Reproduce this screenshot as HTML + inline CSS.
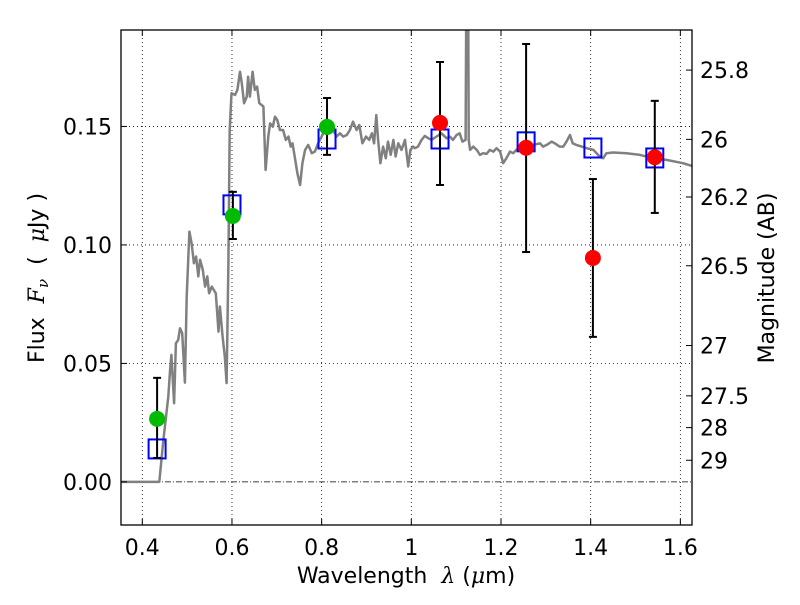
<!DOCTYPE html>
<html><head><meta charset="utf-8"><style>
body{margin:0;background:#fff;}
svg{font-family:"DejaVu Sans","Liberation Sans",sans-serif;}
</style></head><body>
<svg id="chart" width="800" height="600" viewBox="0 0 800 600" xmlns="http://www.w3.org/2000/svg">
<defs><clipPath id="clip"><rect x="121" y="30" width="571" height="495"/></clipPath></defs>
<rect width="800" height="600" fill="#fff"/>
<g id="grid"></g>
<line id="zeroLine" x1="121" x2="692" stroke="#000" stroke-width="0.8" stroke-dasharray="6,2,1,2"/>
<g clip-path="url(#clip)"><path id="spectrum" fill="none" stroke="#808080" stroke-width="2.5" stroke-linejoin="round"/></g>
<g id="marks"></g>
<rect x="121" y="30" width="571" height="495" fill="none" stroke="#000" stroke-width="1.3"/>
<g id="axes" font-size="22"></g>
<text x="406" y="583" font-size="22" text-anchor="middle" xml:space="preserve">Wavelength  <tspan font-style="italic" font-family="DejaVu Serif,serif">λ</tspan> (<tspan font-style="italic" font-family="DejaVu Serif,serif">μ</tspan>m)</text>
<text transform="translate(44,278) rotate(-90)" font-size="22" text-anchor="middle" xml:space="preserve">Flux  <tspan font-style="italic" font-family="DejaVu Serif,serif">F<tspan font-size="15" dy="4">ν</tspan></tspan><tspan dy="-4">  (  </tspan><tspan font-style="italic" font-family="DejaVu Serif,serif">μ</tspan>Jy )</text>
<text transform="translate(774,278) rotate(-90)" font-size="22" text-anchor="middle">Magnitude (AB)</text>
</svg>
<script>
const xTicks=[0.4,0.6,0.8,1.0,1.2,1.4,1.6];
const xTickLabels=["0.4","0.6","0.8","1","1.2","1.4","1.6"];
const yTicks=[0,0.05,0.10,0.15];
const yTickLabels=["0.00","0.05","0.10","0.15"];
const magTicks=[25.8,26,26.2,26.5,27,27.5,28,29];
const magTickLabels=["25.8","26","26.2","26.5","27","27.5","28","29"];
const specLam=[0.350,0.438,0.447,0.458,0.462,0.465,0.471,0.475,0.480,0.484,0.489,0.495,0.499,0.505,0.510,0.515,0.520,0.525,0.529,0.535,0.540,0.545,0.549,0.555,0.564,0.570,0.573,0.579,0.584,0.588,0.592,0.595,0.599,0.607,0.612,0.618,0.622,0.627,0.633,0.636,0.640,0.646,0.651,0.656,0.661,0.670,0.675,0.681,0.685,0.691,0.696,0.701,0.707,0.714,0.720,0.726,0.731,0.735,0.740,0.746,0.752,0.757,0.763,0.770,0.778,0.785,0.792,0.800,0.807,0.815,0.826,0.833,0.841,0.848,0.856,0.863,0.870,0.878,0.884,0.891,0.899,0.906,0.912,0.917,0.922,0.926,0.931,0.937,0.943,0.948,0.954,0.960,0.965,0.971,0.978,0.986,0.993,0.998,1.004,1.008,1.015,1.023,1.030,1.038,1.045,1.056,1.067,1.079,1.086,1.093,1.101,1.108,1.114,1.121,1.125,1.128,1.131,1.138,1.146,1.153,1.160,1.168,1.175,1.183,1.190,1.198,1.205,1.212,1.220,1.227,1.238,1.250,1.261,1.272,1.287,1.294,1.302,1.313,1.320,1.331,1.339,1.346,1.354,1.360,1.368,1.380,1.391,1.406,1.420,1.428,1.435,1.450,1.480,1.510,1.539,1.569,1.606,1.630];
const specFlux=[0,0,0.0177,0.0360,0.0473,0.0536,0.0332,0.0585,0.0599,0.0648,0.0627,0.0419,0.0782,0.1056,0.1007,0.0923,0.0951,0.0867,0.0937,0.0895,0.0824,0.0867,0.0796,0.0824,0.0796,0.0634,0.0740,0.0613,0.0529,0.0417,0.0923,0.1485,0.1640,0.1633,0.1654,0.1731,0.1682,0.1598,0.1626,0.1710,0.1626,0.1731,0.1654,0.1668,0.1598,0.1584,0.1316,0.1457,0.1513,0.1499,0.1541,0.1527,0.1485,0.1485,0.1443,0.1457,0.1415,0.1429,0.1373,0.1302,0.1253,0.1345,0.1401,0.1422,0.1387,0.1394,0.1429,0.1457,0.1485,0.1485,0.1485,0.1457,0.1471,0.1457,0.1464,0.1485,0.1520,0.1485,0.1506,0.1429,0.1457,0.1443,0.1471,0.1429,0.1548,0.1443,0.1345,0.1415,0.1366,0.1436,0.1380,0.1443,0.1373,0.1429,0.1401,0.1443,0.1331,0.1401,0.1415,0.1408,0.1415,0.1443,0.1460,0.1450,0.1443,0.1457,0.1471,0.1450,0.1457,0.1443,0.1464,0.1471,0.1436,0.1443,0.30,0.1443,0.1401,0.1415,0.1401,0.1380,0.1387,0.1384,0.1401,0.1394,0.1408,0.1394,0.1345,0.1366,0.1394,0.1387,0.1408,0.1429,0.1429,0.1422,0.1429,0.1415,0.1422,0.1436,0.1429,0.1415,0.1415,0.1436,0.1464,0.1429,0.1422,0.1415,0.1408,0.1401,0.1373,0.1366,0.1387,0.1390,0.1387,0.1380,0.1366,0.1359,0.1345,0.1331];
const modelLam=[0.433,0.600,0.812,1.064,1.256,1.405,1.543];
const modelFlux=[0.0139,0.1169,0.1447,0.1447,0.1435,0.1409,0.1367];
const greenLam=[0.433,0.602,0.812];
const greenFlux=[0.0266,0.1122,0.1498];
const greenErrLo=[0.0101,0.1025,0.138];
const greenErrHi=[0.0439,0.1224,0.162];
const redLam=[1.064,1.256,1.405,1.543];
const redFlux=[0.1515,0.141,0.0945,0.137];
const redErrLo=[0.1253,0.097,0.0612,0.1135];
const redErrHi=[0.1772,0.1848,0.1278,0.1608];

const X0=121,X1=692,Y0=30,Y1=525,XMIN=0.3525,XMAX=1.626,YMIN=-0.0182,YMAX=0.1907;
const sx=v=>X0+(v-XMIN)/(XMAX-XMIN)*(X1-X0);
const sy=v=>Y1-(v-YMIN)/(YMAX-YMIN)*(Y1-Y0);
const magToFlux=m=>Math.pow(10,(23.9-m)/2.5);
const NS="http://www.w3.org/2000/svg";
function mk(tag,attrs,parent){const e=document.createElementNS(NS,tag);for(const k in attrs)e.setAttribute(k,attrs[k]);parent.appendChild(e);return e;}
const grid=document.getElementById('grid'),axes=document.getElementById('axes'),marks=document.getElementById('marks');
document.getElementById('zeroLine').setAttribute('y1',sy(0));
document.getElementById('zeroLine').setAttribute('y2',sy(0));
xTicks.forEach((t,i)=>{const x=sx(t);
 const g=mk('line',{x1:x,x2:x,y1:Y0,y2:Y1,stroke:'#000','stroke-width':0.8,'stroke-dasharray':'1,3'},grid);
 
 
 mk('line',{x1:x,x2:x,y1:Y1,y2:Y1-6,stroke:'#000'},axes);
 mk('line',{x1:x,x2:x,y1:Y0,y2:Y0+6,stroke:'#000'},axes);
 const l=mk('text',{x:x,y:555,'text-anchor':'middle'},axes);l.textContent=xTickLabels[i];
 
 
});
yTicks.forEach((t,i)=>{const y=sy(t);
 if(t!==0){const g=mk('line',{x1:X0,x2:X1,y1:y,y2:y,stroke:'#000','stroke-width':0.8,'stroke-dasharray':'1,3'},grid);
 
 }
 mk('line',{x1:X0,x2:X0+6,y1:y,y2:y,stroke:'#000'},axes);
 const l=mk('text',{x:112,y:y+8,'text-anchor':'end'},axes);l.textContent=yTickLabels[i];
 
 
});
magTicks.forEach((m,i)=>{const y=sy(magToFlux(m));
 mk('line',{x1:X1,x2:X1-6,y1:y,y2:y,stroke:'#000'},axes);
 const l=mk('text',{x:700,y:y+8,'text-anchor':'start'},axes);l.textContent=magTickLabels[i];
 
 
});
document.getElementById('spectrum').setAttribute('d',specLam.map((l,i)=>(i?'L':'M')+sx(l).toFixed(1)+','+sy(specFlux[i]).toFixed(1)).join(''));
function errbar(x,lo,hi){const X=sx(x);
 const g=mk('g',{stroke:'#000','stroke-width':2},marks);
 
 
 mk('line',{x1:X,x2:X,y1:sy(lo),y2:sy(hi)},g);
 mk('line',{x1:X-4,x2:X+4,y1:sy(lo),y2:sy(lo)},g);
 mk('line',{x1:X-4,x2:X+4,y1:sy(hi),y2:sy(hi)},g);}
modelLam.forEach((l,i)=>{const r=mk('rect',{x:sx(l)-8.5,y:sy(modelFlux[i])-9.5,width:17,height:19,fill:'none',stroke:'#0000ff','stroke-width':2},marks);
 
 });
greenLam.forEach((l,i)=>{errbar(l,greenErrLo[i],greenErrHi[i]);
 const c=mk('circle',{cx:sx(l),cy:sy(greenFlux[i]),r:8,fill:'#00bb00'},marks);
 
 });
redLam.forEach((l,i)=>{errbar(l,redErrLo[i],redErrHi[i]);
 const c=mk('circle',{cx:sx(l),cy:sy(redFlux[i]),r:8,fill:'#ff0000'},marks);
 
 });
</script>
</body></html>
